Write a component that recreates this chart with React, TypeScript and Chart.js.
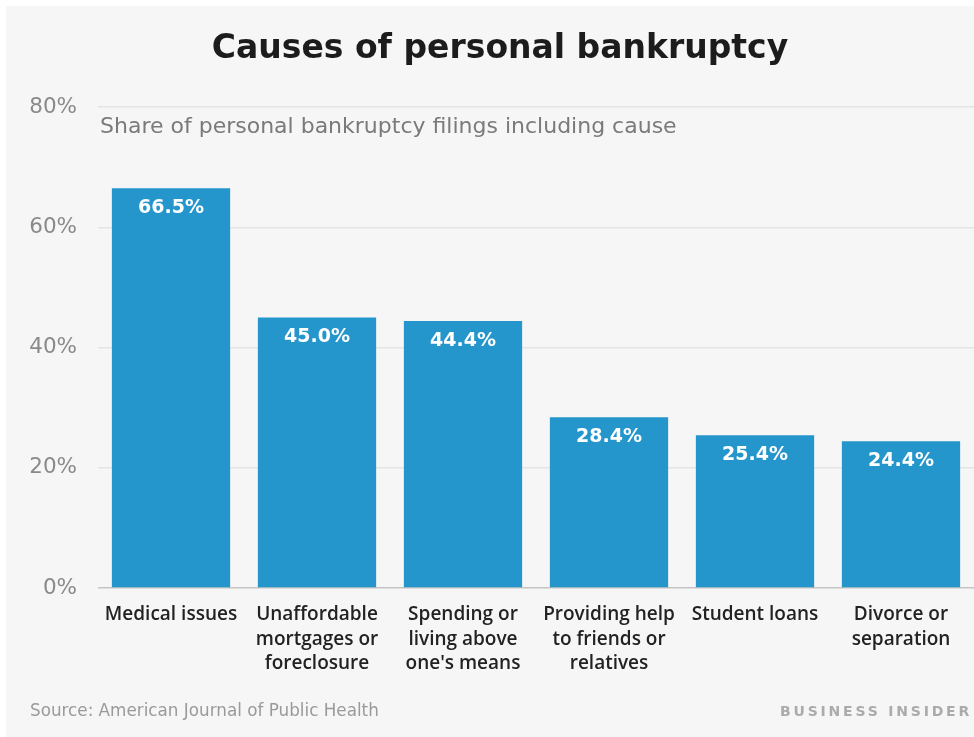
import React, { useEffect, useRef } from "react";
import { Chart, registerables } from "chart.js";

Chart.register(...registerables);

const categories: string[][] = [
  ["Medical issues"],
  ["Unaffordable", "mortgages or", "foreclosure"],
  ["Spending or", "living above", "one's means"],
  ["Providing help", "to friends or", "relatives"],
  ["Student loans"],
  ["Divorce or", "separation"],
];
const shares: number[] = [66.5, 45.0, 44.4, 28.4, 25.4, 24.4];
const yTicks: number[] = [0, 20, 40, 60, 80];

const TITLE = "Causes of personal bankruptcy";
const SUBTITLE = "Share of personal bankruptcy filings including cause";
const SOURCE = "Source: American Journal of Public Health";
const BRAND = "BUSINESS INSIDER";

const FONT = "'DejaVu Sans', sans-serif";
const LABEL_FONT = "'Open Sans', 'DejaVu Sans', sans-serif";
const BAR = "#2596cc";

export default function App() {
  const ref = useRef<HTMLCanvasElement | null>(null);
  useEffect(() => {
    if (!ref.current) return;
    const decor = {
      id: "decor",
      beforeDraw(chart: any) {
        const ctx = chart.ctx;
        ctx.save();
        ctx.fillStyle = "#ffffff";
        ctx.fillRect(0, 0, chart.width, chart.height);
        ctx.fillStyle = "#f6f6f6";
        ctx.fillRect(6, 6, chart.width - 6, chart.height - 6);
        ctx.restore();
      },
      afterDatasetsDraw(chart: any) {
        const ctx = chart.ctx;
        const area = chart.chartArea;
        ctx.save();
        // title
        ctx.fillStyle = "#1c1c1c";
        ctx.font = `bold 33px ${FONT}`;
        ctx.textAlign = "center";
        ctx.textBaseline = "middle";
        ctx.fillText(TITLE, 500, 49);
        // subtitle
        ctx.fillStyle = "#7a7a7a";
        ctx.font = `22px ${FONT}`;
        ctx.textAlign = "left";
        ctx.fillText(SUBTITLE, area.left + 2, 127);
        // source
        ctx.fillStyle = "#9a9a9a";
        ctx.font = `16.8px ${FONT}`;
        ctx.fillText(SOURCE, 30, 712);
        // data labels
        const meta = chart.getDatasetMeta(0);
        ctx.fillStyle = "#ffffff";
        ctx.font = `bold 19px ${FONT}`;
        ctx.textAlign = "center";
        meta.data.forEach((bar: any, i: number) => {
          ctx.fillText(shares[i].toFixed(1) + "%", bar.x, bar.y + 20);
        });
        // brand
        ctx.fillStyle = "#ababab";
        ctx.font = `bold 14px ${FONT}`;
        ctx.textAlign = "right";
        (ctx as any).letterSpacing = "2.8px";
        ctx.fillText(BRAND, 972, 712);
        (ctx as any).letterSpacing = "0px";
        ctx.restore();
      },
    };
    const chart = new Chart(ref.current, {
      type: "bar",
      data: {
        labels: categories as any,
        datasets: [
          {
            data: shares,
            backgroundColor: BAR,
            borderWidth: 0,
            barPercentage: 0.81,
            categoryPercentage: 1,
          },
        ],
      },
      options: {
        animation: false,
        responsive: false,
        maintainAspectRatio: false,
        layout: { padding: { top: 107, left: 0, right: 0, bottom: 0 } },
        plugins: {
          legend: { display: false },
          tooltip: { enabled: false },
          title: { display: false },
        },
        scales: {
          x: {
            grid: { display: false, drawTicks: false },
            border: { display: false },
            ticks: {
              color: "#222222",
              font: { family: LABEL_FONT, size: 19, weight: "600", lineHeight: 1.27 } as any,
              padding: 15,
              maxRotation: 0,
              autoSkip: false,
            },
            afterFit(scale: any) {
              scale.height = 737 - 588;
            },
          },
          y: {
            min: 0,
            max: 80,
            afterBuildTicks(scale: any) {
              scale.ticks = yTicks.map((v) => ({ value: v }));
            },
            afterFit(scale: any) {
              scale.width = 98;
            },
            grid: {
              color: (c: any) => (c.tick && c.tick.value === 0 ? "#c4c4c4" : "#e4e4e4"),
              lineWidth: 1.5,
              drawTicks: false,
            },
            border: { display: false },
            ticks: {
              color: "#8a8a8a",
              font: { family: FONT, size: 21.5 },
              padding: 21,
              callback: (v: any) => v + "%",
            },
          },
        },
      },
      plugins: [decor],
    });
    return () => chart.destroy();
  }, []);
  return (
    <div style={{ position: "fixed", left: 0, top: 0, width: 974, height: 737 }}>
      <canvas ref={ref} width={974} height={737} style={{ width: 974, height: 737, display: "block" }} />
    </div>
  );
}
